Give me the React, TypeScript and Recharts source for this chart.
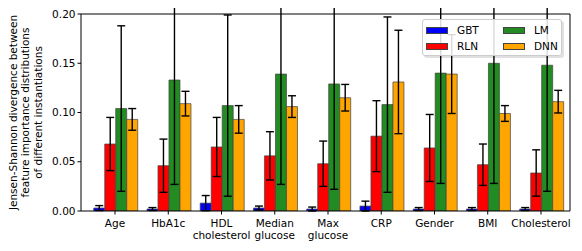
import React from 'react';
import {
  BarChart,
  Bar,
  XAxis,
  YAxis,
  ErrorBar,
  Label,
} from 'recharts';

const categories = ['Age', 'HbA1c', 'HDL\ncholesterol', 'Median\nglucose', 'Max\nglucose', 'CRP', 'Gender', 'BMI', 'Cholesterol'];

const gbt = [0.003, 0.002, 0.008, 0.003, 0.002, 0.005, 0.002, 0.002, 0.002];
const gbtErr = [0.0025, 0.0015, 0.0077, 0.002, 0.002, 0.005, 0.0015, 0.0015, 0.0015];
const rln = [0.068, 0.046, 0.065, 0.056, 0.048, 0.076, 0.064, 0.047, 0.0386];
const rlnErr = [0.027, 0.027, 0.03, 0.0245, 0.023, 0.036, 0.034, 0.021, 0.0235];
const lm = [0.104, 0.133, 0.107, 0.139, 0.129, 0.108, 0.14, 0.15, 0.148];
const lmErr = [0.084, 0.106, 0.092, 0.112, 0.107, 0.089, 0.112, 0.122, 0.128];
const dnn = [0.093, 0.109, 0.093, 0.106, 0.115, 0.131, 0.139, 0.099, 0.111];
const dnnErr = [0.011, 0.0125, 0.014, 0.011, 0.0135, 0.0525, 0.04, 0.008, 0.0115];

const yTicks = [0, 0.05, 0.1, 0.15, 0.2];
const yLabelLines = ['Jensen-Shannon divergence between', 'feature importance distributions', 'of different instantiations'];

const series = [
  { key: 'gbt', name: 'GBT', color: '#0000ff' },
  { key: 'rln', name: 'RLN', color: '#ff0000' },
  { key: 'lm', name: 'LM', color: '#228b22' },
  { key: 'dnn', name: 'DNN', color: '#ffa500' },
];

const data = categories.map((c, i) => ({
  name: c,
  gbt: gbt[i], gbtErr: gbtErr[i],
  rln: rln[i], rlnErr: rlnErr[i],
  lm: lm[i], lmErr: lmErr[i],
  dnn: dnn[i], dnnErr: dnnErr[i],
}));

const FONT = '"DejaVu Sans", sans-serif';
const FS = 10.5;

const XTick = (props: any) => {
  const { x, y, payload } = props;
  const lines = String(payload.value).split('\n');
  return (
    <text x={x} y={y} textAnchor="middle" fontSize={FS} fontFamily={FONT} fill="#000">
      {lines.map((l, i) => (
        <tspan key={i} x={x} dy={i === 0 ? 10 : 12.5}>{l}</tspan>
      ))}
    </text>
  );
};

const YLabel = (props: any) => {
  const vb = props.viewBox || { y: 14, height: 197 };
  const cx = 29;
  const cy = vb.y + vb.height / 2;
  return (
    <text transform={`rotate(-90, ${cx}, ${cy})`} x={cx} y={cy} textAnchor="middle" fontSize={FS} fontFamily={FONT} fill="#000">
      {yLabelLines.map((l, i) => (
        <tspan key={i} x={cx} dy={i === 0 ? -12.5 : 12.5}>{l}</tspan>
      ))}
    </text>
  );
};

const legendRows = [[series[0], series[2]], [series[1], series[3]]];

const App = () => {
  return (
    <div style={{ position: 'relative', width: 582, height: 251, margin: -8, fontFamily: FONT }}>
      <BarChart
        width={582}
        height={251}
        data={data}
        margin={{ top: 13, right: 11, bottom: 10, left: 0 }}
        barCategoryGap="10%"
        barGap={0}
      >
        <XAxis
          dataKey="name"
          height={30}
          interval={0}
          padding={{ left: 7.4, right: 2.4 }}
          tick={<XTick />}
          tickSize={3.5}
          tickLine={{ stroke: '#000' }}
          axisLine={{ stroke: '#000' }}
        />
        <XAxis xAxisId="top" dataKey="name" orientation="top" height={1} tick={false} tickLine={false} axisLine={{ stroke: '#000' }} />
        <YAxis
          width={81}
          domain={[0, 0.2]}
          ticks={yTicks}
          allowDataOverflow
          tickFormatter={(v: number) => v.toFixed(2)}
          tick={{ fontSize: FS, fill: '#000', fontFamily: FONT }}
          tickSize={3.5}
          tickMargin={2}
          tickLine={{ stroke: '#000' }}
          axisLine={{ stroke: '#000' }}
        >
          <Label content={<YLabel />} position="left" />
        </YAxis>
        <YAxis yAxisId="right" orientation="right" width={1} domain={[0, 0.2]} tick={false} tickLine={false} axisLine={{ stroke: '#000' }} />
        {series.map((s) => (
          <Bar key={s.key} dataKey={s.key} name={s.name} fill={s.color} stroke="#444" strokeWidth={0.7} isAnimationActive={false}>
            <ErrorBar dataKey={`${s.key}Err`} stroke="#000" strokeWidth={1.4} width={4} />
          </Bar>
        ))}
      </BarChart>
      <div
        style={{
          position: 'absolute', left: 422, top: 19, width: 138, height: 35,
          background: 'rgba(255,255,255,0.85)', border: '1px solid #cccccc', borderRadius: 3,
          boxShadow: '2px 2px 0 rgba(0,0,0,0.12)', fontSize: FS, color: '#000',
        }}
      >
        {legendRows.map((row, r) => (
          <div key={r} style={{ position: 'absolute', top: 4 + r * 16, left: 3, height: 12, width: 136 }}>
            {row.map((s, c) => (
              <div key={s.key} style={{ position: 'absolute', left: c * 77, top: 0, display: 'flex', alignItems: 'center', height: 12 }}>
                <span style={{ display: 'inline-block', width: 22, height: 7, background: s.color, border: '0.7px solid #444', boxSizing: 'border-box' }} />
                <span style={{ marginLeft: 9, lineHeight: '12px' }}>{s.name}</span>
              </div>
            ))}
          </div>
        ))}
      </div>
    </div>
  );
};

export default App;
